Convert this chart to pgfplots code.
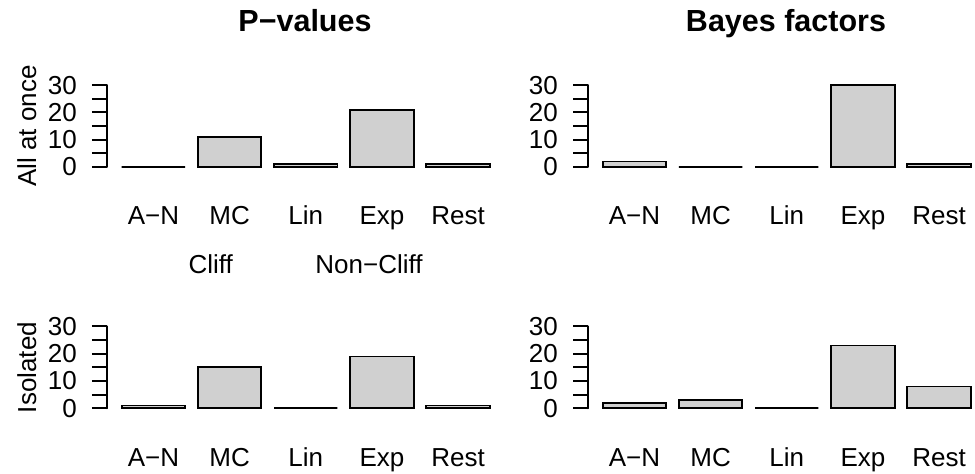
\documentclass[border=0pt]{standalone}
\usepackage{fontspec}
\setmainfont{Liberation Sans}
\usepackage{pgfplots}
\pgfplotsset{compat=1.18}
\definecolor{barfill}{RGB}{208,208,208}
\pgfplotsset{
  rpanel/.style={
    scale only axis, width=397.5pt, height=88.5pt, anchor=south west,
    xmin=-0.032, xmax=6.232, ymin=-1.2, ymax=31.2,
    axis lines*=left, axis line style={draw=none},
    ybar, bar width=1,
    xtick={0.7,1.9,3.1,4.3,5.5},
    xticklabels={A−N,MC,Lin,Exp,Rest},
    ytick={0,5,10,15,20,25,30},
    yticklabels={0,,10,,20,,30},
    tick align=outside, major tick length=15pt,
    xtick style={draw=none},
    ytick style={black, line width=1.8pt},
    xticklabel style={anchor=base, yshift=-39.5pt},
    yticklabel style={anchor=east, inner sep=0pt, xshift=-15pt},
    /pgf/number format/assume math mode=true,
    tick label style={font=\fontsize{26}{30}\selectfont},
    clip=false,
  },
  rbar/.style={draw=black, fill=barfill, line width=1.8pt},
}
\newcommand{\yline}{\draw[line width=1.8pt, line cap=round] (axis cs:-0.032,0) -- (axis cs:-0.032,30);}
\begin{document}
\begin{tikzpicture}
\useasboundingbox (0,0) rectangle (975pt,474pt);
% top left
\begin{axis}[rpanel, at={(107pt,303.7pt)}]
\addplot[rbar] coordinates {(0.7,0) (1.9,11) (3.1,1) (4.3,21) (5.5,1)};
\yline
\end{axis}
% top right
\begin{axis}[rpanel, at={(588pt,303.7pt)}]
\addplot[rbar] coordinates {(0.7,2) (1.9,0) (3.1,0) (4.3,30) (5.5,1)};
\yline
\end{axis}
% bottom left
\begin{axis}[rpanel, at={(107pt,62.4pt)}]
\addplot[rbar] coordinates {(0.7,1) (1.9,15) (3.1,0) (4.3,19) (5.5,1)};
\yline
\end{axis}
% bottom right
\begin{axis}[rpanel, at={(588pt,62.4pt)}]
\addplot[rbar] coordinates {(0.7,2) (1.9,3) (3.1,0) (4.3,23) (5.5,8)};
\yline
\end{axis}
\node[anchor=base, font=\fontsize{30.5}{34}\selectfont\bfseries] at (305pt,442.3pt) {P−values};
\node[anchor=base, font=\fontsize{30.5}{34}\selectfont\bfseries] at (786pt,442.3pt) {Bayes factors};
\node[anchor=base, rotate=90, font=\fontsize{26}{30}\selectfont] at (36pt,348pt) {All at once};
\node[anchor=base, rotate=90, font=\fontsize{26}{30}\selectfont] at (36pt,106.5pt) {Isolated};
\node[anchor=base, font=\fontsize{26}{30}\selectfont] at (210.7pt,200.7pt) {Cliff};
\node[anchor=base, font=\fontsize{26}{30}\selectfont] at (369pt,200.7pt) {Non−Cliff};
\end{tikzpicture}
\end{document}
